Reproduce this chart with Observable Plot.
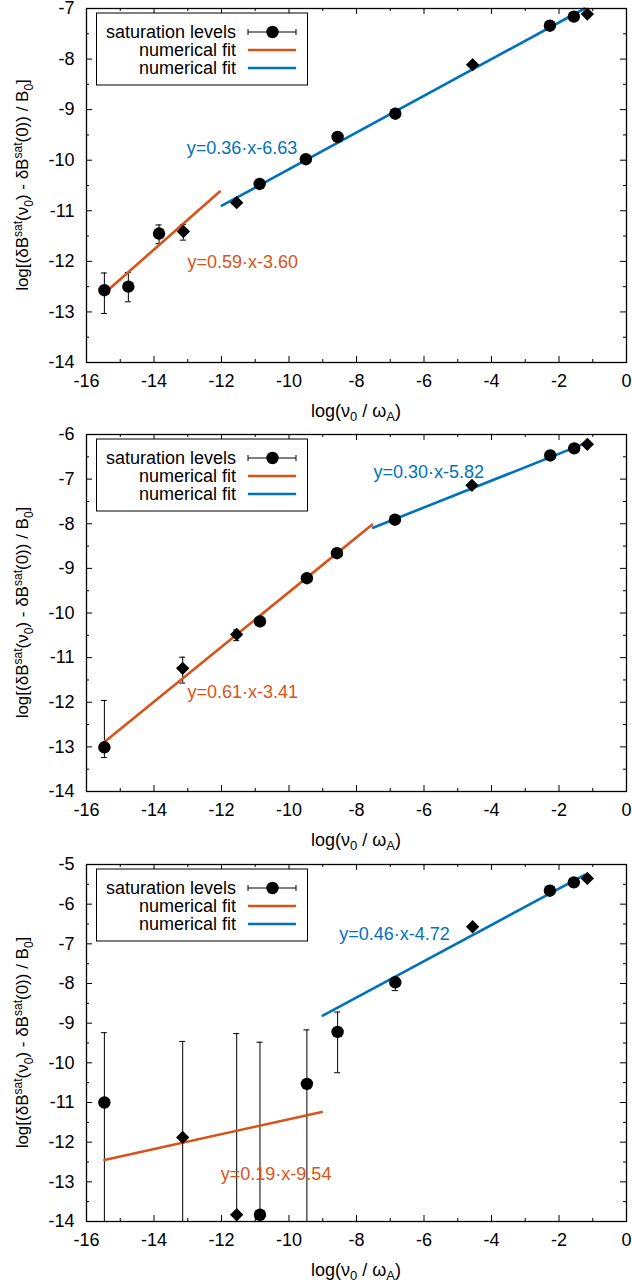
<!DOCTYPE html>
<html><head><meta charset="utf-8">
<script src="https://cdn.jsdelivr.net/npm/d3@7"></script>
<script src="https://cdn.jsdelivr.net/npm/@observablehq/plot@0.6"></script>
<style>
html,body{margin:0;padding:0;background:#fff;}
#chart{width:632px;}
#chart svg{display:block;}
</style></head><body><div id="chart"></div>
<script>
const FONT = "'Liberation Sans', Arial, Helvetica, sans-serif";
const ORANGE = "#D95319", BLUE = "#0072BD";

// shared tick labels
const xTicks = [-16, -14, -12, -10, -8, -6, -4, -2, 0];
const xMinor = [-15, -13, -11, -9, -7, -5, -3, -1];

// legend labels
const legendLabels = ["saturation levels", "numerical fit", "numerical fit"];

// ---- panel 1 ----
const p1X = [-15.47, -14.76, -13.85, -13.13, -11.55, -10.87, -9.5, -8.56, -6.85, -4.56, -2.27, -1.56, -1.16];
const p1Y = [-12.57, -12.50, -11.45, -11.41, -10.84, -10.47, -9.98, -9.54, -9.08, -8.11, -7.34, -7.16, -7.11];
const p1Shape = ["c", "c", "c", "d", "d", "c", "c", "c", "c", "d", "c", "c", "d"];
const p1Lo = [-13.03, -12.80, -11.65, -11.58, null, null, null, null, null, null, null, null, null];
const p1Hi = [-12.23, -12.22, -11.28, -11.27, null, null, null, null, null, null, null, null, null];
const p1OrangeX = [-15.47, -12.05], p1OrangeY = [-12.63, -10.62];
const p1BlueX = [-11.99, -1.24], p1BlueY = [-10.90, -7.0];
const p1Labels = ["y=0.59·x-3.60", "y=0.36·x-6.63"];
const p1LabelX = [-13.01, -13.03], p1LabelY = [-12.02, -9.76];
const p1YTicks = [-14, -13, -12, -11, -10, -9, -8, -7];

// ---- panel 2 ----
const p2X = [-15.47, -13.15, -11.55, -10.86, -9.47, -8.58, -6.86, -4.58, -2.26, -1.55, -1.16];
const p2Y = [-13.01, -11.24, -10.48, -10.19, -9.22, -8.66, -7.91, -7.14, -6.47, -6.31, -6.22];
const p2Shape = ["c", "d", "d", "c", "c", "c", "c", "d", "c", "c", "d"];
const p2Lo = [-13.24, -11.57, -10.62, null, null, null, null, null, null, null, null];
const p2Hi = [-11.96, -10.99, -10.38, null, null, null, null, null, null, null, null];
const p2OrangeX = [-15.47, -7.54], p2OrangeY = [-12.89, -8.02];
const p2BlueX = [-7.51, -1.1], p2BlueY = [-8.09, -6.16];
const p2Labels = ["y=0.61·x-3.41", "y=0.30·x-5.82"];
const p2LabelX = [-13.01, -7.5], p2LabelY = [-11.78, -6.85];
const p2YTicks = [-14, -13, -12, -11, -10, -9, -8, -7, -6];

// ---- panel 3 ----
const p3X = [-15.47, -13.15, -11.55, -10.86, -9.47, -8.56, -6.85, -4.56, -2.27, -1.56, -1.16];
const p3Y = [-11.0, -11.88, -13.83, -13.83, -10.53, -9.22, -7.97, -6.57, -5.66, -5.45, -5.35];
const p3Shape = ["c", "d", "d", "c", "c", "c", "c", "d", "c", "c", "d"];
const p3Lo = [-14, -14, -14, -14, -14, -10.25, -8.18, null, null, null, null];
const p3Hi = [-9.24, -9.46, -9.26, -9.48, -9.17, -8.72, -7.85, null, null, null, null];
const p3OrangeX = [-15.47, -9.03], p3OrangeY = [-12.45, -11.24];
const p3BlueX = [-9.0, -1.24], p3BlueY = [-8.81, -5.26];
const p3Labels = ["y=0.19·x-9.54", "y=0.46·x-4.72"];
const p3LabelX = [-12.02, -8.51], p3LabelY = [-12.8, -6.76];
const p3YTicks = [-14, -13, -12, -11, -10, -9, -8, -7, -6, -5];

const W = 632, H = 427, ML = 86, MR = 6;
const FS = 18;

function addRich(sel, parts, subSize) {
  let shift = 0;
  for (const [txt, kind] of parts) {
    const ts = sel.append("tspan").text(txt);
    let target = kind === "sub" ? 4.5 : kind === "sup" ? -6.5 : 0;
    ts.attr("dy", target - shift);
    if (kind) ts.attr("font-size", subSize);
    shift = target;
  }
}

function panel(c) {
  const pts = c.xs.map((x, i) => ({x, y: c.ys[i], s: c.shapes[i], lo: c.lo[i], hi: c.hi[i]}));
  const bars = pts.filter(d => d.lo != null);
  const circles = pts.filter(d => d.s === "c");
  const diamonds = pts.filter(d => d.s === "d");
  const orange = c.ox.map((x, i) => ({x, y: c.oy[i]}));
  const blue = c.bx.map((x, i) => ({x, y: c.by[i]}));
  const ann = c.lab.map((t, i) => ({t, x: c.lx[i], y: c.ly[i], col: i === 0 ? ORANGE : BLUE}));
  const yMin = c.yt[0], yMax = c.yt[c.yt.length - 1];
  const yMinor = c.yt.slice(0, -1).map(v => v + 0.5);
  const ph = H - c.mt - c.mb, pw = W - ML - MR;
  const TK = 6, TM = 3;
  const svg = Plot.plot({
    width: W, height: H, marginLeft: ML, marginRight: MR, marginTop: c.mt, marginBottom: c.mb,
    x: {domain: [-16, 0]},
    y: {domain: [yMin, yMax]},
    style: {fontFamily: FONT, fontSize: FS + "px", color: "#000", background: "#fff", overflow: "visible"},
    marks: [
      Plot.axisX(xTicks, {tickSize: 0, tickPadding: 12, tickFormat: d => String(d), label: null, fontSize: FS}),
      Plot.axisY(c.yt, {tickSize: 0, tickPadding: 12, tickFormat: d => String(d), label: null, fontSize: FS}),
      Plot.ruleX(xTicks, {insetTop: ph - TK, stroke: "#000"}),
      Plot.ruleX(xTicks, {insetBottom: ph - TK, stroke: "#000"}),
      Plot.ruleX(xMinor, {insetTop: ph - TM, stroke: "#000"}),
      Plot.ruleX(xMinor, {insetBottom: ph - TM, stroke: "#000"}),
      Plot.ruleY(c.yt, {insetRight: pw - TK, stroke: "#000"}),
      Plot.ruleY(c.yt, {insetLeft: pw - TK, stroke: "#000"}),
      Plot.ruleY(yMinor, {insetRight: pw - TM, stroke: "#000"}),
      Plot.ruleY(yMinor, {insetLeft: pw - TM, stroke: "#000"}),
      Plot.ruleX(bars, {x: "x", y1: "lo", y2: "hi", stroke: "#000", strokeWidth: 1, clip: true}),
      Plot.ruleY(bars, {y: "lo", x1: "x", x2: "x", insetLeft: -3, insetRight: -3, stroke: "#000", strokeWidth: 1, clip: true}),
      Plot.ruleY(bars, {y: "hi", x1: "x", x2: "x", insetLeft: -3, insetRight: -3, stroke: "#000", strokeWidth: 1, clip: true}),
      Plot.line(orange, {x: "x", y: "y", stroke: ORANGE, strokeWidth: 2.6}),
      Plot.line(blue, {x: "x", y: "y", stroke: BLUE, strokeWidth: 2.6}),
      Plot.dot(circles, {x: "x", y: "y", r: 6.2, fill: "#000", stroke: null}),
      Plot.dot(diamonds, {x: "x", y: "y", r: 6, symbol: "diamond2", fill: "#000", stroke: null}),
      Plot.text(ann, {x: "x", y: "y", text: "t", fill: "col", textAnchor: "start", fontSize: FS}),
      Plot.frame({stroke: "#000", strokeWidth: 1.3})
    ]
  });
  const s = d3.select(svg);
  // legend
  const bx0 = 96.5, by0 = c.mt + 5, bw = 211, bh = 72;
  const g = s.append("g").attr("font-family", FONT).attr("font-size", FS);
  g.append("rect").attr("x", bx0).attr("y", by0).attr("width", bw).attr("height", bh)
    .attr("fill", "#fff").attr("stroke", "#000").attr("stroke-width", 1);
  const rowY = [by0 + 19, by0 + 37, by0 + 55];
  legendLabels.forEach((t, i) => {
    g.append("text").attr("x", 236).attr("y", rowY[i]).attr("dy", "0.35em").attr("text-anchor", "end").text(t);
  });
  g.append("line").attr("x1", 248).attr("x2", 296).attr("y1", rowY[0]).attr("y2", rowY[0]).attr("stroke", "#000");
  g.append("line").attr("x1", 248).attr("x2", 248).attr("y1", rowY[0] - 3).attr("y2", rowY[0] + 3).attr("stroke", "#000");
  g.append("line").attr("x1", 296).attr("x2", 296).attr("y1", rowY[0] - 3).attr("y2", rowY[0] + 3).attr("stroke", "#000");
  g.append("circle").attr("cx", 272.5).attr("cy", rowY[0]).attr("r", 6.2).attr("fill", "#000");
  g.append("line").attr("x1", 248).attr("x2", 296).attr("y1", rowY[1]).attr("y2", rowY[1]).attr("stroke", ORANGE).attr("stroke-width", 2.6);
  g.append("line").attr("x1", 248).attr("x2", 296).attr("y1", rowY[2]).attr("y2", rowY[2]).attr("stroke", BLUE).attr("stroke-width", 2.6);
  // axis titles
  const cy = c.mt + ph / 2;
  const yl = s.append("text").attr("transform", `translate(28,${cy}) rotate(-90)`)
    .attr("text-anchor", "middle").attr("font-family", FONT).attr("font-size", 17).attr("fill", "#000");
  addRich(yl, [["log[(δB", null], ["sat", "sup"], ["(ν", null], ["0", "sub"], [") - δB", null], ["sat", "sup"], ["(0)) / B", null], ["0", "sub"], ["]", null]], 12);
  const xl = s.append("text").attr("x", ML + pw / 2).attr("y", H - c.mb + 54.5)
    .attr("text-anchor", "middle").attr("font-family", FONT).attr("font-size", FS).attr("fill", "#000");
  addRich(xl, [["log(ν", null], ["0", "sub"], [" / ω", null], ["A", "sub"], [")", null]], 13);
  return svg;
}

const root = document.getElementById("chart");
root.append(panel({xs: p1X, ys: p1Y, shapes: p1Shape, lo: p1Lo, hi: p1Hi, ox: p1OrangeX, oy: p1OrangeY, bx: p1BlueX, by: p1BlueY, lab: p1Labels, lx: p1LabelX, ly: p1LabelY, yt: p1YTicks, mt: 8, mb: 65}));
root.append(panel({xs: p2X, ys: p2Y, shapes: p2Shape, lo: p2Lo, hi: p2Hi, ox: p2OrangeX, oy: p2OrangeY, bx: p2BlueX, by: p2BlueY, lab: p2Labels, lx: p2LabelX, ly: p2LabelY, yt: p2YTicks, mt: 7, mb: 63}));
root.append(panel({xs: p3X, ys: p3Y, shapes: p3Shape, lo: p3Lo, hi: p3Hi, ox: p3OrangeX, oy: p3OrangeY, bx: p3BlueX, by: p3BlueY, lab: p3Labels, lx: p3LabelX, ly: p3LabelY, yt: p3YTicks, mt: 10, mb: 60}));
</script></body></html>
